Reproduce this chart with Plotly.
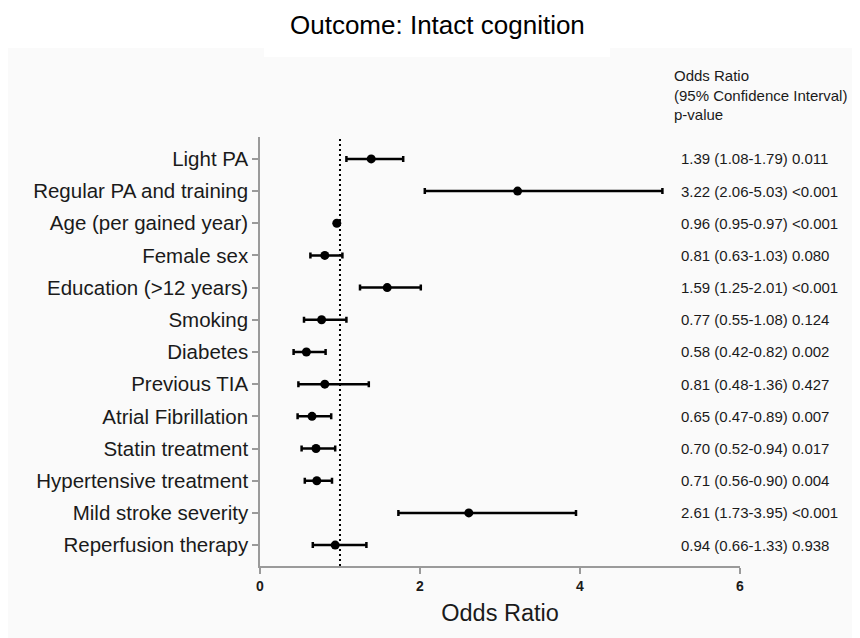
import plotly.graph_objects as go

categories = [
    "Light PA", "Regular PA and training", "Age (per gained year)", "Female sex",
    "Education (>12 years)", "Smoking", "Diabetes", "Previous TIA",
    "Atrial Fibrillation", "Statin treatment", "Hypertensive treatment",
    "Mild stroke severity", "Reperfusion therapy",
]
odds_ratio = [1.39, 3.22, 0.96, 0.81, 1.59, 0.77, 0.58, 0.81, 0.65, 0.70, 0.71, 2.61, 0.94]
ci_low = [1.08, 2.06, 0.95, 0.63, 1.25, 0.55, 0.42, 0.48, 0.47, 0.52, 0.56, 1.73, 0.66]
ci_high = [1.79, 5.03, 0.97, 1.03, 2.01, 1.08, 0.82, 1.36, 0.89, 0.94, 0.90, 3.95, 1.33]
p_values = ["0.011", "<0.001", "<0.001", "0.080", "<0.001", "0.124", "0.002",
            "0.427", "0.007", "0.017", "0.004", "<0.001", "0.938"]
x_ticks = [0, 2, 4, 6]

FONT = "Liberation Sans, Arial, sans-serif"
TXT = "#1a1a1a"

# page offset (default body margin of the html page)
OFF = 8
FW, FH = 860 - OFF, 638 - OFF
L, T = 260 - OFF, 137 - OFF
R = FW - (740 - OFF)
B = FH - (566 - OFF)
W, H = FW - L - R, FH - T - B
def px(x): return (x - OFF - L) / W
def py(y): return (FH - B - (y - OFF)) / H

fig = go.Figure()

fig.add_trace(go.Scatter(
    x=odds_ratio, y=categories, mode="markers",
    marker=dict(color="black", size=9),
    error_x=dict(type="data", symmetric=False,
                 array=[h - o for h, o in zip(ci_high, odds_ratio)],
                 arrayminus=[o - l for o, l in zip(odds_ratio, ci_low)],
                 color="black", thickness=2.5, width=3),
    showlegend=False, hoverinfo="skip",
))

# reference line at OR = 1
fig.add_shape(type="line", xref="x", yref="paper", x0=1, x1=1, y0=0, y1=1,
              line=dict(color="black", width=2, dash="2px,3px"))

# panel background
fig.add_shape(type="rect", xref="paper", yref="paper", layer="below",
              x0=px(OFF), x1=px(862), y0=py(640), y1=py(48),
              fillcolor="#fafafa", line=dict(width=0))
fig.add_shape(type="rect", xref="paper", yref="paper", layer="below",
              x0=px(264), x1=px(610), y0=py(57), y1=py(47),
              fillcolor="white", line=dict(width=0))

# right-side text
for c, o, lo, hi, p in zip(categories, odds_ratio, ci_low, ci_high, p_values):
    fig.add_annotation(xref="paper", yref="y", x=px(679), y=c,
                       text=f"{o:.2f} ({lo:.2f}-{hi:.2f}) {p}",
                       showarrow=False, xanchor="left", yanchor="middle",
                       font=dict(family=FONT, size=15, color=TXT))

fig.add_annotation(xref="paper", yref="paper", x=px(672), y=py(65),
                   text="Odds Ratio<br>(95% Confidence Interval)<br>p-value",
                   showarrow=False, xanchor="left", yanchor="top", align="left",
                   font=dict(family=FONT, size=15, color=TXT))

fig.add_annotation(xref="paper", yref="paper", x=px(437), y=py(25),
                   text="Outcome: Intact cognition", showarrow=False,
                   xanchor="center", yanchor="middle",
                   font=dict(family=FONT, size=26, color="black"))

fig.update_layout(
    width=FW, height=FH,
    margin=dict(l=L, r=R, t=T, b=B),
    paper_bgcolor="white", plot_bgcolor="rgba(0,0,0,0)",
    font=dict(family=FONT, color=TXT),
)
fig.update_xaxes(
    range=[0, 6], tickvals=x_ticks, ticktext=[str(v) for v in x_ticks],
    showgrid=False, zeroline=False, showline=True, linecolor="#9a9a9a", linewidth=1.5,
    ticks="outside", ticklen=6, tickwidth=1.5, tickcolor="#9a9a9a",
    tickfont=dict(family=FONT, size=14, color=TXT, weight="bold"),
    title=dict(text="Odds Ratio", font=dict(family=FONT, size=23.5, color=TXT), standoff=12),
)
fig.update_yaxes(
    type="category", categoryorder="array", categoryarray=categories,
    range=[12.65, -0.68],
    showgrid=False, zeroline=False, showline=True, linecolor="#9a9a9a", linewidth=1.5,
    ticks="outside", ticklen=6, tickwidth=1.5, tickcolor="#9a9a9a",
    tickfont=dict(family=FONT, size=20.5, color=TXT),
)

fig.write_html("out.html")
